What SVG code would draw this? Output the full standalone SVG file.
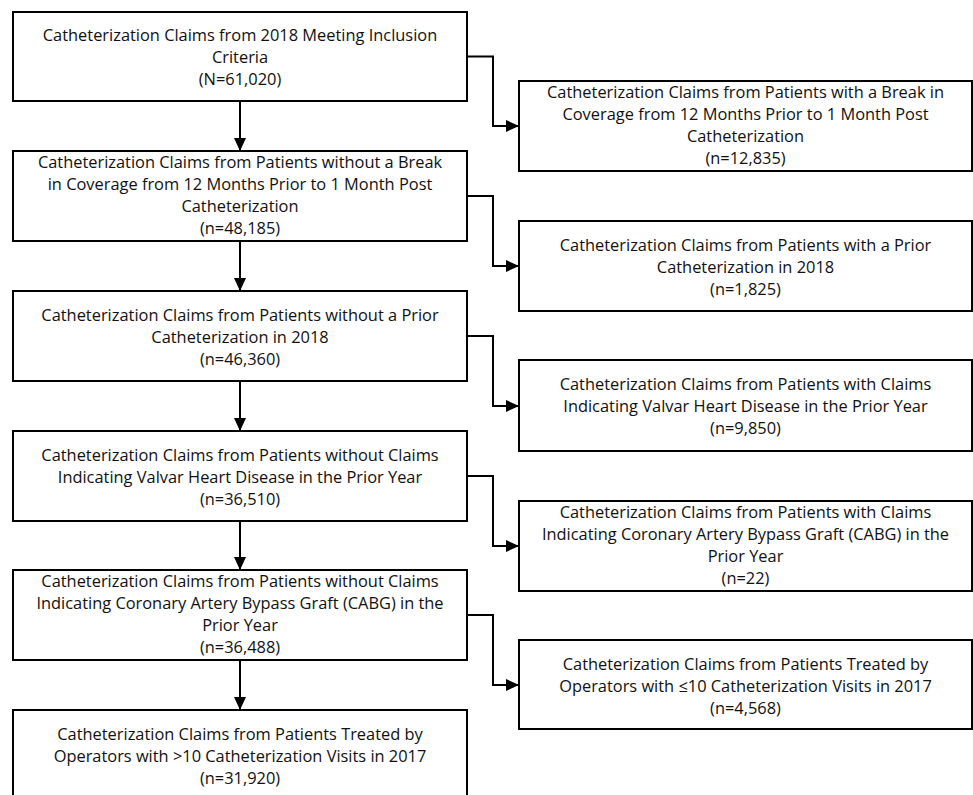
<svg xmlns="http://www.w3.org/2000/svg" width="973" height="795" viewBox="0 0 973 795">
<style>
.box{fill:#fff;stroke:#000;stroke-width:2}
.t{font-family:"Open Sans",Lato,"Liberation Sans",sans-serif;font-size:16.4px;fill:#111;text-anchor:middle}
.c{fill:none;stroke:#000;stroke-width:2}
</style>
<defs>
<marker id="ah" markerUnits="userSpaceOnUse" markerWidth="14" markerHeight="12" refX="13" refY="6" orient="auto">
<path d="M0,0 L13,6 L0,12 z" fill="#000"/>
</marker>
</defs>
<rect width="973" height="795" fill="#fff"/>
<g id="connectors">
<path class="c" d="M240,101 V151" marker-end="url(#ah)"/>
<path class="c" d="M240,241 V291" marker-end="url(#ah)"/>
<path class="c" d="M240,381 V431" marker-end="url(#ah)"/>
<path class="c" d="M240,521 V570" marker-end="url(#ah)"/>
<path class="c" d="M240,660 V710" marker-end="url(#ah)"/>
<path class="c" d="M467,56.5 H493 V126 H519" marker-end="url(#ah)"/>
<path class="c" d="M467,196 H493 V266 H519" marker-end="url(#ah)"/>
<path class="c" d="M467,336 H493 V406 H519" marker-end="url(#ah)"/>
<path class="c" d="M467,476 H493 V546 H519" marker-end="url(#ah)"/>
<path class="c" d="M467,615 H493 V685 H519" marker-end="url(#ah)"/>
</g>
<g id="n1">
<rect class="box" x="13" y="12" width="454" height="89"/>
<text class="t" x="240" y="41">Catheterization Claims from 2018 Meeting Inclusion</text>
<text class="t" x="240" y="63">Criteria</text>
<text class="t" x="240" y="85">(N=61,020)</text>
</g>
<g id="n2">
<rect class="box" x="13" y="151" width="454" height="90"/>
<text class="t" x="240" y="167.5">Catheterization Claims from Patients without a Break</text>
<text class="t" x="240" y="189.5">in Coverage from 12 Months Prior to 1 Month Post</text>
<text class="t" x="240" y="211.5">Catheterization</text>
<text class="t" x="240" y="233.5">(n=48,185)</text>
</g>
<g id="n3">
<rect class="box" x="13" y="291" width="454" height="90"/>
<text class="t" x="240" y="320.5">Catheterization Claims from Patients without a Prior</text>
<text class="t" x="240" y="342.5">Catheterization in 2018</text>
<text class="t" x="240" y="364.5">(n=46,360)</text>
</g>
<g id="n4">
<rect class="box" x="13" y="431" width="454" height="90"/>
<text class="t" x="240" y="460.5">Catheterization Claims from Patients without Claims</text>
<text class="t" x="240" y="482.5">Indicating Valvar Heart Disease in the Prior Year</text>
<text class="t" x="240" y="504.5">(n=36,510)</text>
</g>
<g id="n5">
<rect class="box" x="13" y="570" width="454" height="90"/>
<text class="t" x="240" y="586.5">Catheterization Claims from Patients without Claims</text>
<text class="t" x="240" y="608.5">Indicating Coronary Artery Bypass Graft (CABG) in the</text>
<text class="t" x="240" y="630.5">Prior Year</text>
<text class="t" x="240" y="652.5">(n=36,488)</text>
</g>
<g id="n6">
<rect class="box" x="13" y="710" width="454" height="95"/>
<text class="t" x="240" y="739.5">Catheterization Claims from Patients Treated by</text>
<text class="t" x="240" y="761.5">Operators with &gt;10 Catheterization Visits in 2017</text>
<text class="t" x="240" y="783.5">(n=31,920)</text>
</g>
<g id="r1">
<rect class="box" x="519" y="81" width="453" height="90"/>
<text class="t" x="745.5" y="98">Catheterization Claims from Patients with a Break in</text>
<text class="t" x="745.5" y="120">Coverage from 12 Months Prior to 1 Month Post</text>
<text class="t" x="745.5" y="142">Catheterization</text>
<text class="t" x="745.5" y="164">(n=12,835)</text>
</g>
<g id="r2">
<rect class="box" x="519" y="221" width="453" height="90"/>
<text class="t" x="745.5" y="250.5">Catheterization Claims from Patients with a Prior</text>
<text class="t" x="745.5" y="272.5">Catheterization in 2018</text>
<text class="t" x="745.5" y="294.5">(n=1,825)</text>
</g>
<g id="r3">
<rect class="box" x="519" y="360" width="453" height="91"/>
<text class="t" x="745.5" y="389.5">Catheterization Claims from Patients with Claims</text>
<text class="t" x="745.5" y="411.5">Indicating Valvar Heart Disease in the Prior Year</text>
<text class="t" x="745.5" y="433.5">(n=9,850)</text>
</g>
<g id="r4">
<rect class="box" x="519" y="501" width="453" height="90"/>
<text class="t" x="745.5" y="517.5">Catheterization Claims from Patients with Claims</text>
<text class="t" x="745.5" y="539.5">Indicating Coronary Artery Bypass Graft (CABG) in the</text>
<text class="t" x="745.5" y="561.5">Prior Year</text>
<text class="t" x="745.5" y="583.5">(n=22)</text>
</g>
<g id="r5">
<rect class="box" x="519" y="640" width="453" height="89"/>
<text class="t" x="745.5" y="669.5">Catheterization Claims from Patients Treated by</text>
<text class="t" x="745.5" y="691.5">Operators with ≤10 Catheterization Visits in 2017</text>
<text class="t" x="745.5" y="713.5">(n=4,568)</text>
</g>
</svg>
